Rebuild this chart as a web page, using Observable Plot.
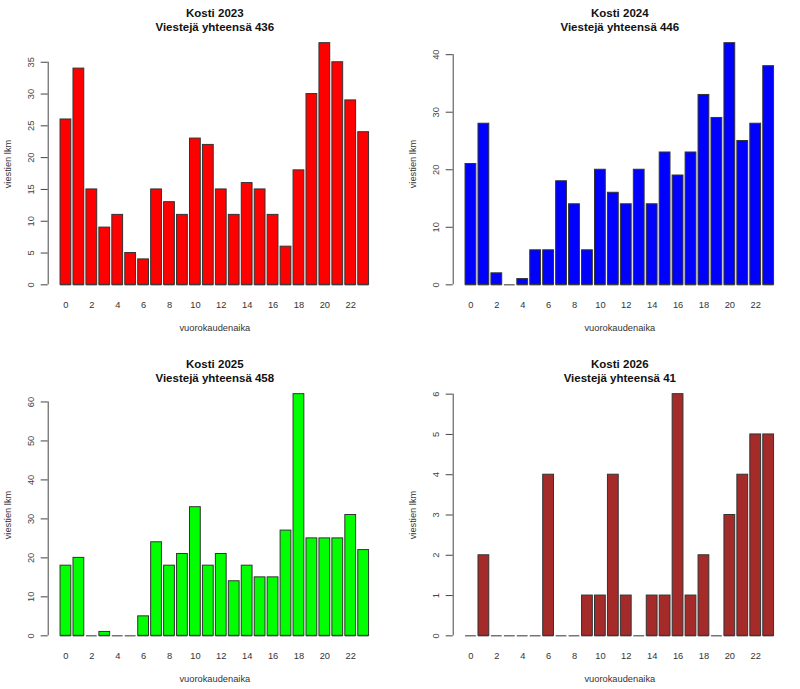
<!DOCTYPE html>
<html>
<head>
<meta charset="utf-8">
<script src="https://cdn.jsdelivr.net/npm/d3@7"></script>
<script src="https://cdn.jsdelivr.net/npm/@observablehq/plot@0.6"></script>
<style>
  body { margin: 0; background: #ffffff; }
  #wrap { position: relative; width: 800px; height: 689px; background: #ffffff; }
  .panel { position: absolute; }
</style>
</head>
<body>
<div id="wrap"></div>
<script>
// ---- data ----
const hours = [0,1,2,3,4,5,6,7,8,9,10,11,12,13,14,15,16,17,18,19,20,21,22,23];
const xTicks = [0,2,4,6,8,10,12,14,16,18,20,22];

const years = ["2023", "2024", "2025", "2026"];
const v2023 = [26,34,15,9,11,5,4,15,13,11,23,22,15,11,16,15,11,6,18,30,38,35,29,24];
const v2024 = [21,28,2,0,1,6,6,18,14,6,20,16,14,20,14,23,19,23,33,29,42,25,28,38];
const v2025 = [18,20,0,1,0,0,5,24,18,21,33,18,21,14,18,15,15,27,62,25,25,25,31,22];
const v2026 = [0,2,0,0,0,0,4,0,0,1,1,4,1,0,1,1,6,1,2,0,3,4,5,5];

const yTicks2023 = [0,5,10,15,20,25,30,35];
const yTicks2024 = [0,10,20,30,40];
const yTicks2025 = [0,10,20,30,40,50,60];
const yTicks2026 = [0,1,2,3,4,5,6];

const yLabel = "viestien lkm";
const xLabel = "vuorokaudenaika";

// ---- panel config (styles / layout) ----
const panels = [
  {year: years[0], values: v2023, ticks: yTicks2023, fill: "#FF0000", left: 0,   top: 0},
  {year: years[1], values: v2024, ticks: yTicks2024, fill: "#0000FF", left: 405, top: 0},
  {year: years[2], values: v2025, ticks: yTicks2025, fill: "#00FF00", left: 0,   top: 351},
  {year: years[3], values: v2026, ticks: yTicks2026, fill: "#A52A2A", left: 405, top: 351}
];

const FONT = "'Liberation Sans', Arial, Helvetica, sans-serif";
const half = 0.5 / 1.2; // bar width 1, space 0.2 (R barplot default)

function makePanel(p) {
  const data = hours.map((h, i) => ({h, v: p.values[i]}));
  const lo = hours[0] - half, hi = hours[hours.length - 1] + half;
  const padX = 0.04 * (hi - lo);
  const max = d3.max(p.values);
  const title = `Kosti ${p.year}\nViestejä yhteensä ${d3.sum(p.values)}`;
  return Plot.plot({
    width: 395,
    height: 338,
    marginLeft: 47.7,
    marginRight: 14.1,
    marginTop: 33,
    marginBottom: 44,
    style: {fontFamily: FONT, fontSize: "9.3px", background: "#ffffff", color: "#333", overflow: "visible"},
    x: {domain: [lo - padX, hi + padX]},
    y: {domain: [-0.04 * max, 1.04 * max]},
    marks: [
      Plot.rectY(data, {
        x1: d => d.h - half, x2: d => d.h + half,
        y1: () => 0, y2: "v",
        fill: p.fill, stroke: "#333", strokeWidth: 1
      }),
      Plot.ruleY(data, {
        x1: d => d.h - half, x2: d => d.h + half,
        y: () => 0, stroke: "#333", strokeWidth: 1
      }),
      Plot.ruleX([lo - padX], {
        y1: () => p.ticks[0], y2: () => p.ticks[p.ticks.length - 1],
        stroke: "#444", strokeWidth: 1
      }),
      Plot.axisY({
        ticks: p.ticks, tickFormat: d => String(d),
        tickSize: 7, tickPadding: 7, tickRotate: -90,
        textAnchor: "middle", lineAnchor: "bottom",
        label: null, color: "#444", fontSize: 9.3
      }),
      Plot.axisX({
        ticks: xTicks, tickFormat: d => String(d),
        tickSize: 0, tickPadding: 6.5,
        label: null, color: "#333", fontSize: 9.3
      }),
      Plot.text([title], {
        frameAnchor: "top", dy: -14.1, lineAnchor: "middle", textAnchor: "middle",
        fontWeight: "bold", fontSize: 11.5, lineHeight: 1.24, fill: "#111"
      }),
      Plot.text([yLabel], {
        frameAnchor: "left", dx: -40, rotate: -90, lineAnchor: "middle",
        textAnchor: "middle", fill: "#333", fontSize: 9.3
      }),
      Plot.text([xLabel], {
        frameAnchor: "bottom", dy: 34, lineAnchor: "middle",
        textAnchor: "middle", fill: "#333", fontSize: 9.3
      })
    ]
  });
}

const wrap = document.getElementById("wrap");
for (const p of panels) {
  const div = document.createElement("div");
  div.className = "panel";
  div.style.left = p.left + "px";
  div.style.top = p.top + "px";
  div.appendChild(makePanel(p));
  wrap.appendChild(div);
}
</script>
</body>
</html>
